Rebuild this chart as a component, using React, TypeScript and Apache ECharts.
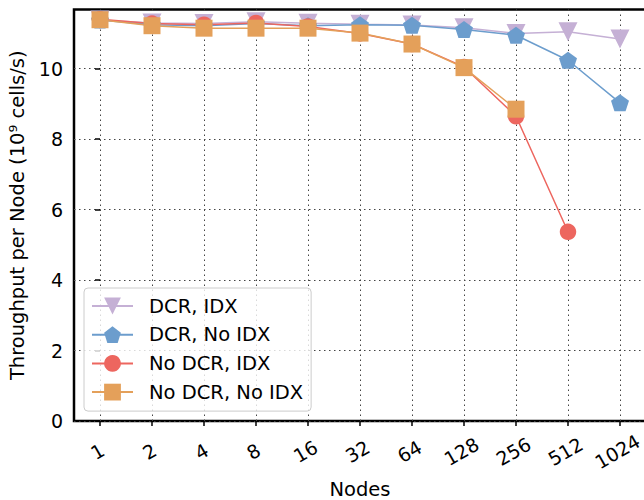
import React, { useEffect, useRef } from "react";
import * as echarts from "echarts";

const nodes = ["1", "2", "4", "8", "16", "32", "64", "128", "256", "512", "1024"];
const yTicks = [0, 2, 4, 6, 8, 10];

const dcrIdx = [11.38, 11.30, 11.28, 11.33, 11.29, 11.26, 11.24, 11.16, 11.0, 11.05, 10.84];
const dcrNoIdx = [11.38, 11.25, 11.22, 11.28, 11.22, 11.25, 11.23, 11.11, 10.95, 10.24, 9.03];
const noDcrIdx = [11.4, 11.28, 11.25, 11.3, 11.2, 11.0, 10.7, 10.05, 8.65, 5.37];
const noDcrNoIdx = [11.39, 11.22, 11.15, 11.15, 11.15, 11.01, 10.7, 10.03, 8.85];

const seriesNames = ["DCR, IDX", "DCR, No IDX", "No DCR, IDX", "No DCR, No IDX"];

const FONT = "DejaVu Sans";
const TRI_DOWN = "path://M0,0L2,0L1,2Z";
const PENTAGON = "path://M0,-1L0.9511,-0.309L0.5878,0.809L-0.5878,0.809L-0.9511,-0.309Z";

export default function App() {
  const ref = useRef<HTMLDivElement>(null);
  useEffect(() => {
    if (!ref.current) return;
    const chart = echarts.init(ref.current, null, { renderer: "svg" });
    const grid = { lineStyle: { color: "#444", width: 1, type: [1.5, 3.5] as any } };
    const mk = (name: string, vals: number[], color: string, symbol: string, size: any) => ({
      name,
      type: "line",
      data: vals.map((v, i) => [i, v]),
      symbol,
      symbolSize: size,
      lineStyle: { color, width: 1.5 },
      itemStyle: { color },
      emphasis: { disabled: true },
    });
    chart.setOption({
      animation: false,
      textStyle: { fontFamily: FONT },
      grid: {
        left: 74,
        width: 572,
        top: 9.5,
        bottom: 79,
        outerBoundsMode: "none",
        containLabel: false,
        show: true,
        borderColor: "#000",
        borderWidth: 2.5,
        backgroundColor: "transparent",
      },
      legend: {
        orient: "vertical",
        left: 84,
        top: 288,
        itemWidth: 41,
        itemHeight: 21,
        itemGap: 8.7,
        padding: [8, 8, 9, 7],
        backgroundColor: "rgba(255,255,255,0.8)",
        borderColor: "#cccccc",
        borderWidth: 1,
        borderRadius: 4,
        textStyle: { fontSize: 19.5, fontFamily: FONT, color: "#000", padding: [0, 0, 0, 11] },
        data: seriesNames,
      },
      xAxis: {
        type: "value",
        min: -0.5,
        max: 10.5,
        name: "Nodes",
        nameLocation: "middle",
        nameGap: 58,
        nameTextStyle: { fontSize: 19.5, fontFamily: FONT, color: "#000" },
        axisLine: { show: false },
        axisTick: {
          show: true,
          customValues: nodes.map((_, i) => i),
          length: 5,
          lineStyle: { color: "#000", width: 1.5 },
        },
        axisLabel: {
          customValues: nodes.map((_, i) => i),
          formatter: (v: number) => nodes[Math.round(v)] ?? "",
          rotate: 30,
          align: "center",
          verticalAlign: "middle",
          margin: 29,
          padding: [0, 6, 0, 0],
          fontSize: 19,
          fontFamily: FONT,
          color: "#000",
        },
        splitLine: { show: true, ...grid },
      },
      yAxis: {
        type: "value",
        min: 0,
        max: 11.68,
        name: "Throughput per Node (10⁹ cells/s)",
        nameLocation: "middle",
        nameGap: 41,
        nameTextStyle: { fontSize: 19.5, fontFamily: FONT, color: "#000" },
        axisLine: { show: false },
        axisTick: {
          show: true,
          customValues: yTicks,
          length: 5,
          lineStyle: { color: "#000", width: 1.5 },
        },
        axisLabel: {
          customValues: yTicks,
          margin: 11,
          fontSize: 19,
          fontFamily: FONT,
          color: "#000",
        },
        splitLine: { show: true, ...grid },
      },
      series: [
        mk(seriesNames[0], dcrIdx, "#c5b0d5", TRI_DOWN, 19),
        mk(seriesNames[1], dcrNoIdx, "#6c9dcd", PENTAGON, [18, 17]),
        mk(seriesNames[2], noDcrIdx, "#ed665f", "circle", 16.5),
        mk(seriesNames[3], noDcrNoIdx, "#e4a05a", "rect", 17),
      ],
    });
    return () => chart.dispose();
  }, []);
  return (
    <div
      ref={ref}
      style={{ position: "absolute", left: 0, top: 0, width: 644, height: 500 }}
    />
  );
}
